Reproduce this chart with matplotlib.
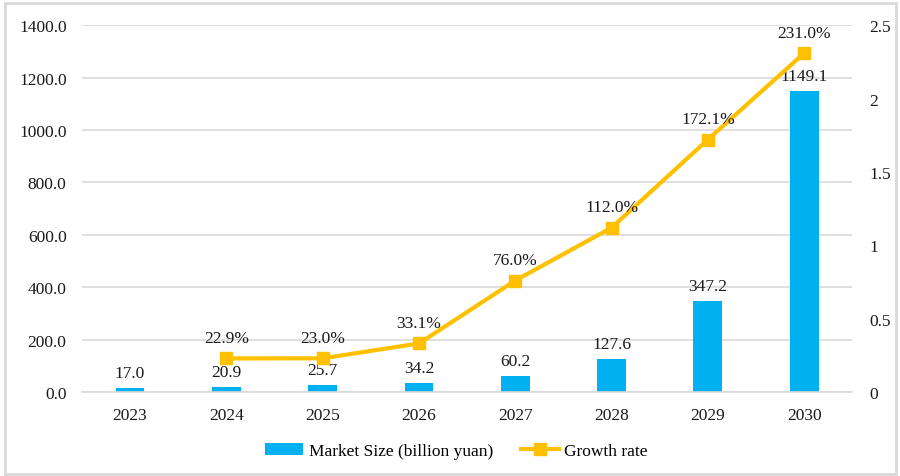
import numpy as np
import matplotlib.pyplot as plt
from matplotlib.patches import Rectangle

years = ['2023', '2024', '2025', '2026', '2027', '2028', '2029', '2030']
market_size = [17.0, 20.9, 25.7, 34.2, 60.2, 127.6, 347.2, 1149.1]
growth = [np.nan, 0.229, 0.230, 0.331, 0.760, 1.120, 1.721, 2.310]
growth_labels = ['', '22.9%', '23.0%', '33.1%', '76.0%', '112.0%', '172.1%', '231.0%']

plt.rcParams['font.family'] = ['Liberation Serif', 'DejaVu Serif']
plt.rcParams['font.size'] = 12.5

bar_color = '#00B0F0'
line_color = '#FFC000'
grid_color = '#D9D9D9'
text_color = '#1a1a1a'

fig = plt.figure(figsize=(9, 4.77), dpi=100)
ax = fig.add_axes([0.091, 0.176, 0.856, 0.769])
ax2 = ax.twinx()

x = np.arange(len(years))
bars = ax.bar(x, market_size, width=0.3, color=bar_color, label='Market Size (billion yuan)', zorder=2)
line, = ax2.plot(x, growth, color=line_color, lw=3, marker='s', markersize=8,
                 label='Growth rate', zorder=3)

ax.set_ylim(0, 1400)
ax.set_yticks(np.arange(0, 1401, 200))
ax.set_yticklabels(['%.1f' % v for v in np.arange(0, 1401, 200)])
ax2.set_ylim(0, 2.5)
ax2.set_yticks([0, 0.5, 1, 1.5, 2, 2.5])
ax2.set_yticklabels(['0', '0.5', '1', '1.5', '2', '2.5'])
ax.set_xlim(-0.5, len(years) - 0.5)
ax.set_xticks(x)
ax.set_xticklabels(years)

ax.grid(axis='y', color=grid_color, lw=1.2, zorder=0)
ax.set_axisbelow(True)
for a in (ax, ax2):
    for s in a.spines.values():
        s.set_visible(False)
    a.tick_params(length=0, colors=text_color, labelsize=12.5)
ax.tick_params(axis='x', pad=11)
ax.tick_params(axis='y', pad=11)
ax2.tick_params(axis='y', pad=12)
ax.spines['bottom'].set_visible(True)
ax.spines['bottom'].set_color(grid_color)
ax.spines['bottom'].set_linewidth(1.2)

for xi, v in zip(x, market_size):
    ax.annotate('%.1f' % v, (xi, v), xytext=(0, 5), textcoords='offset points',
                ha='center', va='bottom', fontsize=12.5, color=text_color, zorder=4)
for xi, g, t in zip(x, growth, growth_labels):
    if t:
        ax2.annotate(t, (xi, g), xytext=(0, 9), textcoords='offset points',
                     ha='center', va='bottom', fontsize=12.5, color=text_color, zorder=4)

fig.legend(handles=[bars, line], loc='center', bbox_to_anchor=(0.507, 0.052), ncol=2,
           frameon=False, fontsize=12.5, handlelength=2.2, columnspacing=1.6, handletextpad=0.3)

fig.patches.append(Rectangle((0.006, 0.004), 0.99, 0.988, transform=fig.transFigure,
                             fill=False, edgecolor=grid_color, lw=2))

fig.savefig('out.png', dpi=100)
